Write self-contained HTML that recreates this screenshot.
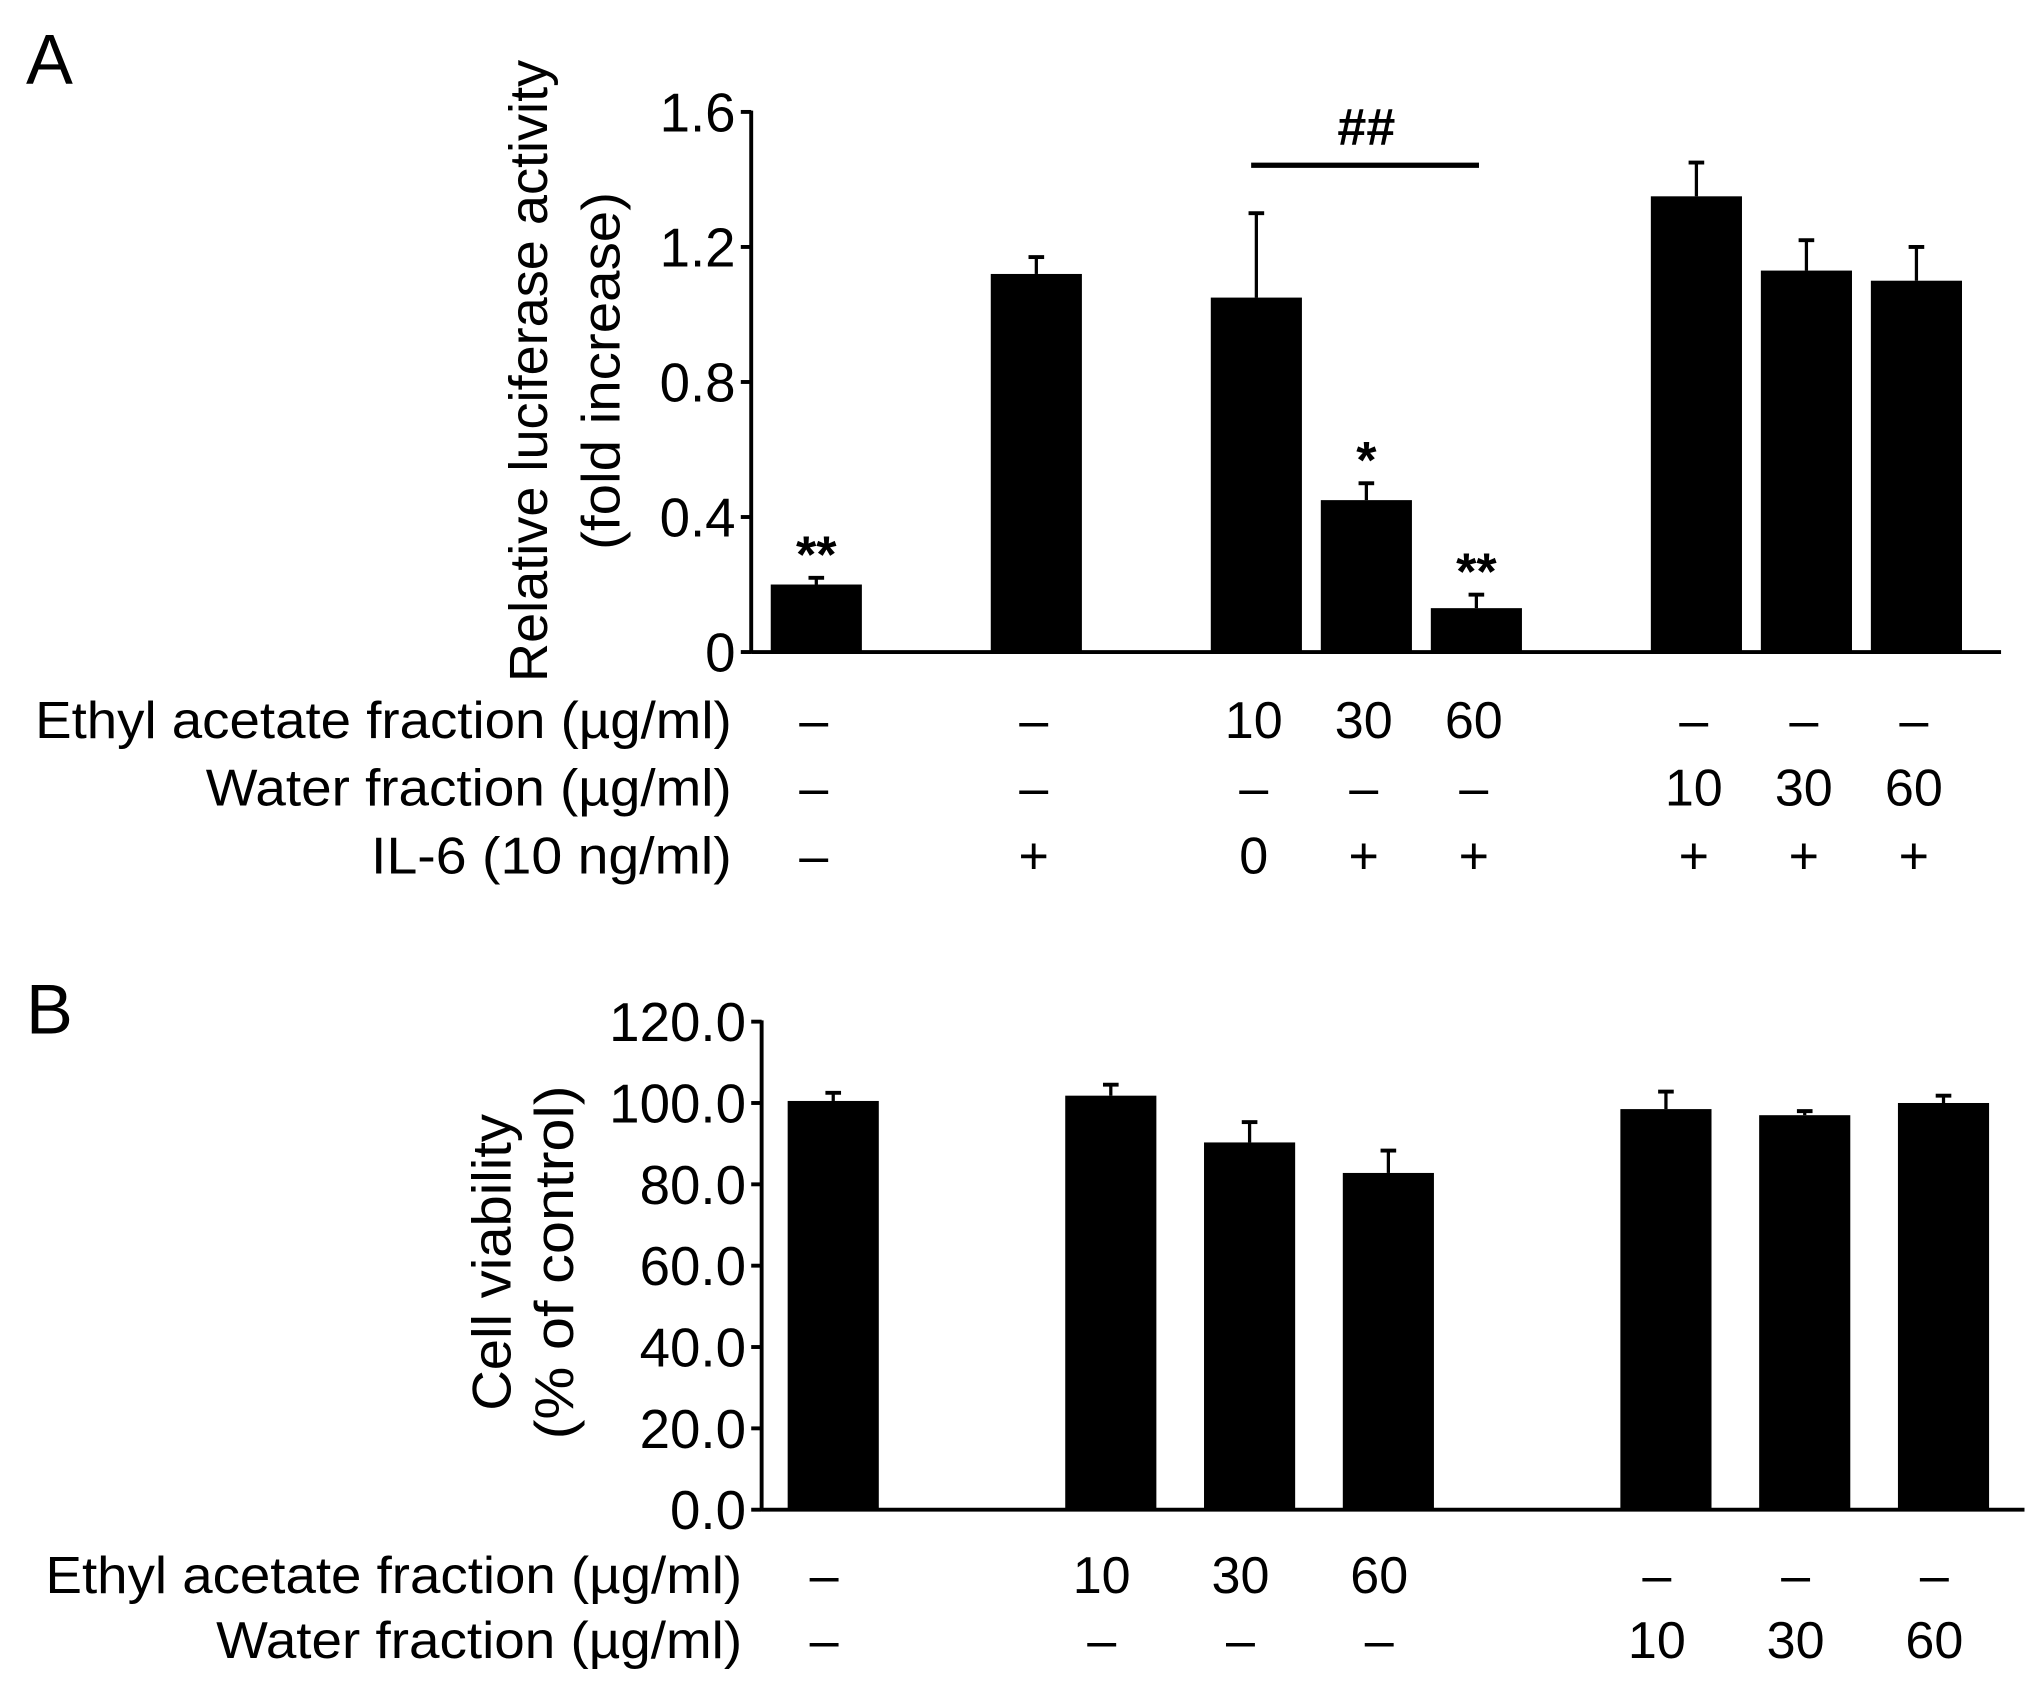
<!DOCTYPE html>
<html><head><meta charset="utf-8"><style>
html,body{margin:0;padding:0;background:#fff;}
svg{display:block;}
text{font-family:"Liberation Sans",Arial,sans-serif;fill:#000;}
</style></head><body>
<svg id="fig" width="2031" height="1688" viewBox="0 0 1560 1297" preserveAspectRatio="none" xmlns="http://www.w3.org/2000/svg">
<text x="20" y="64" font-size="54">A</text>
<text x="20" y="794" font-size="54">B</text>
<g id="chartA"></g>
<g id="chartB"></g>
</svg>
<script>
// Panel A data
const aValues = [0.20, 1.12, 1.05, 0.45, 0.13, 1.35, 1.13, 1.10];
const aErrors = [0.02, 0.05, 0.25, 0.05, 0.04, 0.10, 0.09, 0.10];
const aTicks = [0, 0.4, 0.8, 1.2, 1.6];
const aTickLabels = ["0", "0.4", "0.8", "1.2", "1.6"];
const aStars = ["**", "", "", "*", "**", "", "", ""];
const aEthyl = ["–", "–", "10", "30", "60", "–", "–", "–"];
const aWater = ["–", "–", "–", "–", "–", "10", "30", "60"];
const aIL6 = ["–", "+", "0", "+", "+", "+", "+", "+"];
const aSlots = [0, 2, 4, 5, 6, 8, 9, 10];
// Panel B data
const bValues = [100.5, 101.8, 90.3, 82.8, 98.5, 97.0, 100.0];
const bErrors = [2.0, 2.7, 5.0, 5.5, 4.3, 1.0, 1.8];
const bTicks = [0, 20, 40, 60, 80, 100, 120];
const bTickLabels = ["0.0", "20.0", "40.0", "60.0", "80.0", "100.0", "120.0"];
const bEthyl = ["–", "10", "30", "60", "–", "–", "–"];
const bWater = ["–", "–", "–", "–", "10", "30", "60"];
const bSlots = [0, 2, 3, 4, 6, 7, 8];

const NS = "http://www.w3.org/2000/svg";
function mk(parent, tag, attrs, txt){
  const e = document.createElementNS(NS, tag);
  for (const k in attrs) e.setAttribute(k, attrs[k]);
  if (txt !== undefined) e.textContent = txt;
  parent.appendChild(e);
  return e;
}

// ---------- Panel A ----------
(function(){
  const g = document.getElementById('chartA');
  const x0 = 577, xEnd = 1537, yBase = 501, yTop = 86, vMax = 1.6;
  const y = v => yBase - (v / vMax) * (yBase - yTop);
  const slotStart = 592, slotW = 84.5, barW = 70;
  const xc = s => slotStart + barW/2 + s * slotW;
  let e;
  e = mk(g, 'line', {x1:x0, y1:yTop-1, x2:x0, y2:yBase+1, stroke:'#000','stroke-width':3});
  
  
  e = mk(g, 'line', {x1:x0, y1:yBase, x2:xEnd, y2:yBase, stroke:'#000','stroke-width':3});
  
  
  aTicks.forEach((t,i)=>{
    mk(g,'line',{x1:x0-8,y1:y(t),x2:x0,y2:y(t),stroke:'#000','stroke-width':3});
    e = mk(g,'text',{x:x0-12,y:y(t)+15,'font-size':42,'text-anchor':'end'},aTickLabels[i]);
    
    
  });
  e = mk(g,'text',{transform:'translate(420,285) rotate(-90)','font-size':41,'text-anchor':'middle',textLength:478,lengthAdjust:'spacingAndGlyphs'},'Relative luciferase activity');
  
  
  e = mk(g,'text',{transform:'translate(476,285) rotate(-90)','font-size':41,'text-anchor':'middle',textLength:275,lengthAdjust:'spacingAndGlyphs'},'(fold increase)');
  
  
  aValues.forEach((v,i)=>{
    const c = xc(aSlots[i]);
    const top = y(v + aErrors[i]);
    mk(g,'line',{x1:c,y1:y(v),x2:c,y2:top,stroke:'#000','stroke-width':2.5});
    mk(g,'line',{x1:c-6,y1:top,x2:c+6,y2:top,stroke:'#000','stroke-width':3});
    e = mk(g,'rect',{x:c-barW/2,y:y(v),width:barW,height:yBase-y(v),fill:'#000'});
    
    
    if (aStars[i]) {
      e = mk(g,'text',{x:c,y:top-4,'font-size':40,'font-weight':'bold','text-anchor':'middle'},aStars[i]);
      
      
    }
    [[aEthyl,553],[aWater,605],[aIL6,657]].forEach(([arr,yy])=>{
      e = mk(g,'text',{x:c-2,y:yy+14,'font-size':40,'text-anchor':'middle'},arr[i]);
      
      
    });
  });
  const l = xc(aSlots[2]), r = xc(aSlots[4]);
  e = mk(g,'line',{x1:l-4,y1:127,x2:r+2,y2:127,stroke:'#000','stroke-width':4});
  
  
  e = mk(g,'text',{x:(l+r)/2,y:111,'font-size':40,'font-weight':'bold','text-anchor':'middle'},'##');
  
  
  [['Ethyl acetate fraction (µg/ml)',553,535],['Water fraction (µg/ml)',605,404],['IL-6 (10 ng/ml)',657,277]].forEach(([t,yy,w])=>{
    e = mk(g,'text',{x:562,y:yy+14,'font-size':40,'text-anchor':'end',textLength:w,lengthAdjust:'spacingAndGlyphs'},t);
    
    
  });
})();

// ---------- Panel B ----------
(function(){
  const g = document.getElementById('chartB');
  const x0 = 585, xEnd = 1555, yBase = 1160, yTop = 785, vMax = 120;
  const y = v => yBase - (v / vMax) * (yBase - yTop);
  const slotStart = 605, slotW = 106.6, barW = 70;
  const xc = s => slotStart + barW/2 + s * slotW;
  let e;
  e = mk(g,'line',{x1:x0,y1:yTop-1,x2:x0,y2:yBase+1,stroke:'#000','stroke-width':3});
  
  
  e = mk(g,'line',{x1:x0,y1:yBase,x2:xEnd,y2:yBase,stroke:'#000','stroke-width':3});
  
  
  bTicks.forEach((t,i)=>{
    mk(g,'line',{x1:x0-8,y1:y(t),x2:x0,y2:y(t),stroke:'#000','stroke-width':3});
    e = mk(g,'text',{x:x0-12,y:y(t)+15,'font-size':42,'text-anchor':'end'},bTickLabels[i]);
    
    
  });
  e = mk(g,'text',{transform:'translate(392,970) rotate(-90)','font-size':42,'text-anchor':'middle',textLength:228,lengthAdjust:'spacingAndGlyphs'},'Cell viability');
  
  
  e = mk(g,'text',{transform:'translate(440,970) rotate(-90)','font-size':42,'text-anchor':'middle',textLength:272,lengthAdjust:'spacingAndGlyphs'},'(% of control)');
  
  
  bValues.forEach((v,i)=>{
    const c = xc(bSlots[i]);
    const top = y(v + bErrors[i]);
    mk(g,'line',{x1:c,y1:y(v),x2:c,y2:top,stroke:'#000','stroke-width':2.5});
    mk(g,'line',{x1:c-6,y1:top,x2:c+6,y2:top,stroke:'#000','stroke-width':3});
    e = mk(g,'rect',{x:c-barW/2,y:y(v),width:barW,height:yBase-y(v),fill:'#000'});
    
    
    [[bEthyl,1210],[bWater,1260]].forEach(([arr,yy])=>{
      e = mk(g,'text',{x:c-7,y:yy+14,'font-size':40,'text-anchor':'middle'},arr[i]);
      
      
    });
  });
  [['Ethyl acetate fraction (µg/ml)',1210,535],['Water fraction (µg/ml)',1260,404]].forEach(([t,yy,w])=>{
    e = mk(g,'text',{x:570,y:yy+14,'font-size':40,'text-anchor':'end',textLength:w,lengthAdjust:'spacingAndGlyphs'},t);
    
    
  });
})();
</script>
</body></html>
